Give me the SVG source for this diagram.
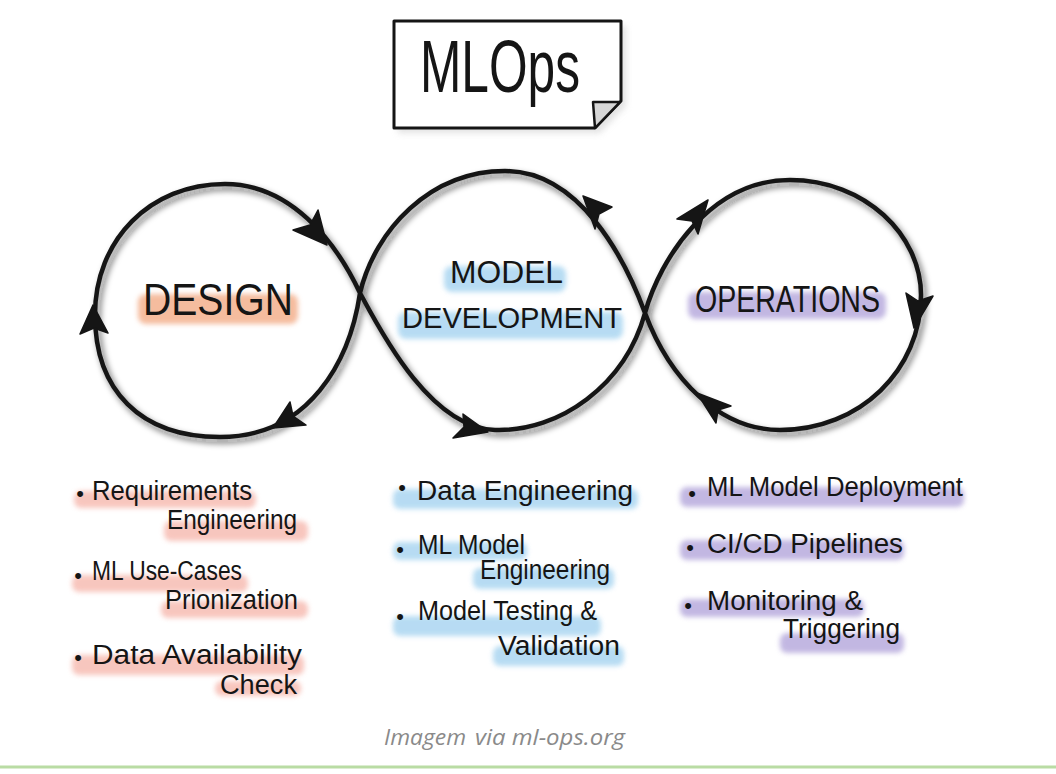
<svg xmlns="http://www.w3.org/2000/svg" width="1056" height="774" viewBox="0 0 1056 774">
<defs>
<style>
.hand{font-family:"Liberation Sans","DejaVu Sans",sans-serif;fill:#151515;}
.item{font-size:27px;}
.bul{font-size:22px;text-anchor:middle;}
.head{font-weight:normal;}
.hlO{fill:#f2a67e;opacity:0.75;}
.hlP{fill:#f5aea3;opacity:0.7;}
.hlB{fill:#9fd0ef;opacity:0.75;}
.hlV{fill:#a99ad6;opacity:0.7;}
.loop{fill:none;stroke:#151515;stroke-width:4.5;stroke-linejoin:round;}
.arrow{fill:#151515;stroke:#151515;stroke-width:1.5;stroke-linejoin:round;}
</style>
<filter id="soft" x="-10%" y="-50%" width="120%" height="200%"><feGaussianBlur stdDeviation="2.5"/></filter>
<filter id="shadow" x="-10%" y="-10%" width="120%" height="130%"><feGaussianBlur stdDeviation="3"/></filter>
</defs>
<rect width="1056" height="774" fill="#ffffff"/>

<g id="title">
<path d="M398,26 H626 V106 L600,133 H398 Z" fill="#cfcfcf" opacity="0.6" filter="url(#shadow)"/>
<path d="M394,21 H621 V101 L595,128 H394 Z" fill="#ffffff" stroke="#151515" stroke-width="3" stroke-linejoin="round"/>
<path d="M593,102 L620,102 L595,128 Z" fill="#d6d6d6" stroke="#151515" stroke-width="2.5" stroke-linejoin="round"/>
<text class="hand" x="420" y="92" font-size="74" textLength="160" lengthAdjust="spacingAndGlyphs">MLOps</text>
</g>

<g id="connectors">
<path class="loop" stroke="#bdbdbd" stroke-opacity="0.6" filter="url(#shadow)" transform="translate(3,4)" d="M360,293 C380,330 430,428 495,430 C560,432 625,385 645,313 C660,259 710,180 790,180 C865,180 921,235 921,295 C921,370 860,430 780,430 C720,430 670,380 645,313 C625,259 580,171 505,171 C430,171 375,230 360,293 C350,360 310,437 220,437 C140,437 95,390 95,315 C95,240 150,184 225,184 C290,184 335,240 360,293 Z"/>
<path class="loop" d="M360,293 C380,330 430,428 495,430 C560,432 625,385 645,313 C660,259 710,180 790,180 C865,180 921,235 921,295 C921,370 860,430 780,430 C720,430 670,380 645,313 C625,259 580,171 505,171 C430,171 375,230 360,293 C350,360 310,437 220,437 C140,437 95,390 95,315 C95,240 150,184 225,184 C290,184 335,240 360,293 Z"/>
<polygon class="arrow" points="327,245 293,230 310,225 318,210"/>
<polygon class="arrow" points="93,305 80,334 94,328 108,333"/>
<polygon class="arrow" points="273,428 290,402 293,416 306,425"/>
<polygon class="arrow" points="488,432 463,414 464,427 453,438"/>
<polygon class="arrow" points="583,196 612,207 599,214 595,229"/>
<polygon class="arrow" points="708,200 677,219 692,221 698,234"/>
<polygon class="arrow" points="914,328 906,293 918,301 933,296"/>
<polygon class="arrow" points="697,393 731,406 718,410 716,423"/>
</g>

<g id="design">
<rect class="hlO" x="138" y="294" width="160" height="30" rx="8" filter="url(#soft)"/>
<text class="hand head" x="143" y="315" font-size="44" textLength="150" lengthAdjust="spacingAndGlyphs">DESIGN</text>
</g>

<g id="model-development">
<rect class="hlB" x="444" y="266" width="122" height="26" rx="8" filter="url(#soft)"/>
<rect class="hlB" x="398" y="312" width="225" height="27" rx="8" filter="url(#soft)"/>
<text class="hand head" x="450" y="283" font-size="32" textLength="113" lengthAdjust="spacingAndGlyphs">MODEL</text>
<text class="hand head" x="402" y="328" font-size="30" textLength="220" lengthAdjust="spacingAndGlyphs">DEVELOPMENT</text>
</g>

<g id="operations">
<rect class="hlV" x="688" y="292" width="198" height="27" rx="8" filter="url(#soft)"/>
<text class="hand head" x="695" y="312" font-size="37" textLength="185" lengthAdjust="spacingAndGlyphs">OPERATIONS</text>
</g>

<g id="design-tasks">
<rect class="hlP" x="74" y="491" width="182" height="17" rx="7" filter="url(#soft)"/>
<rect class="hlP" x="164" y="521" width="144" height="20" rx="7" filter="url(#soft)"/>
<rect class="hlP" x="72" y="575" width="176" height="17" rx="7" filter="url(#soft)"/>
<rect class="hlP" x="161" y="601" width="147" height="17" rx="7" filter="url(#soft)"/>
<rect class="hlP" x="72" y="655" width="232" height="20" rx="7" filter="url(#soft)"/>
<rect class="hlP" x="215" y="681" width="86" height="15" rx="7" filter="url(#soft)"/>
<text class="hand bul" x="80" y="501">•</text>
<text class="hand item" x="92" y="500" textLength="160" lengthAdjust="spacingAndGlyphs">Requirements</text>
<text class="hand item" x="167" y="529" textLength="130" lengthAdjust="spacingAndGlyphs">Engineering</text>
<text class="hand bul" x="78" y="583">•</text>
<text class="hand item" x="92" y="580" textLength="150" lengthAdjust="spacingAndGlyphs">ML Use-Cases</text>
<text class="hand item" x="165" y="609" textLength="133" lengthAdjust="spacingAndGlyphs">Prionization</text>
<text class="hand bul" x="78" y="665">•</text>
<text class="hand item" x="92" y="664" font-size="26" textLength="210" lengthAdjust="spacingAndGlyphs">Data Availability</text>
<text class="hand item" x="220" y="694" font-size="26" textLength="77" lengthAdjust="spacingAndGlyphs">Check</text>
</g>

<g id="development-tasks">
<rect class="hlB" x="393" y="489" width="245" height="20" rx="7" filter="url(#soft)"/>
<rect class="hlB" x="393" y="542" width="134" height="18" rx="7" filter="url(#soft)"/>
<rect class="hlB" x="473" y="568" width="141" height="21" rx="7" filter="url(#soft)"/>
<rect class="hlB" x="393" y="616" width="208" height="20" rx="7" filter="url(#soft)"/>
<rect class="hlB" x="493" y="646" width="131" height="20" rx="7" filter="url(#soft)"/>
<text class="hand bul" x="402" y="495" font-size="17">•</text>
<text class="hand item" x="417" y="500" textLength="216" lengthAdjust="spacingAndGlyphs">Data Engineering</text>
<text class="hand bul" x="400" y="557" font-size="17">•</text>
<text class="hand item" x="418" y="554" font-size="26" textLength="107" lengthAdjust="spacingAndGlyphs">ML Model</text>
<text class="hand item" x="480" y="579" font-size="26" textLength="130" lengthAdjust="spacingAndGlyphs">Engineering</text>
<text class="hand bul" x="400" y="624" font-size="17">•</text>
<text class="hand item" x="418" y="620" font-size="26" textLength="179" lengthAdjust="spacingAndGlyphs">Model Testing &amp;</text>
<text class="hand item" x="498" y="655" textLength="122" lengthAdjust="spacingAndGlyphs">Validation</text>
</g>

<g id="operations-tasks">
<rect class="hlV" x="680" y="487" width="284" height="20" rx="7" filter="url(#soft)"/>
<rect class="hlV" x="680" y="540" width="224" height="20" rx="7" filter="url(#soft)"/>
<rect class="hlV" x="680" y="599" width="184" height="18" rx="7" filter="url(#soft)"/>
<rect class="hlV" x="780" y="633" width="124" height="20" rx="7" filter="url(#soft)"/>
<text class="hand bul" x="692" y="501">•</text>
<text class="hand item" x="707" y="496" textLength="256" lengthAdjust="spacingAndGlyphs">ML Model Deployment</text>
<text class="hand bul" x="690" y="555">•</text>
<text class="hand item" x="707" y="553" textLength="196" lengthAdjust="spacingAndGlyphs">CI/CD Pipelines</text>
<text class="hand bul" x="688" y="613">•</text>
<text class="hand item" x="707" y="610" textLength="156" lengthAdjust="spacingAndGlyphs">Monitoring &amp;</text>
<text class="hand item" x="783" y="638" textLength="117" lengthAdjust="spacingAndGlyphs">Triggering</text>
</g>

<g id="caption">
<text x="384" y="745" font-family="'Open Sans','Liberation Sans',sans-serif" font-style="italic" font-size="21" fill="#8a8a8a"><tspan textLength="82" lengthAdjust="spacingAndGlyphs">Imagem</tspan><tspan x="475" textLength="150" lengthAdjust="spacingAndGlyphs">via ml-ops.org</tspan></text>
</g>

<line x1="0" y1="767" x2="1056" y2="767" stroke="#b9dca4" stroke-width="3"/>
</svg>
